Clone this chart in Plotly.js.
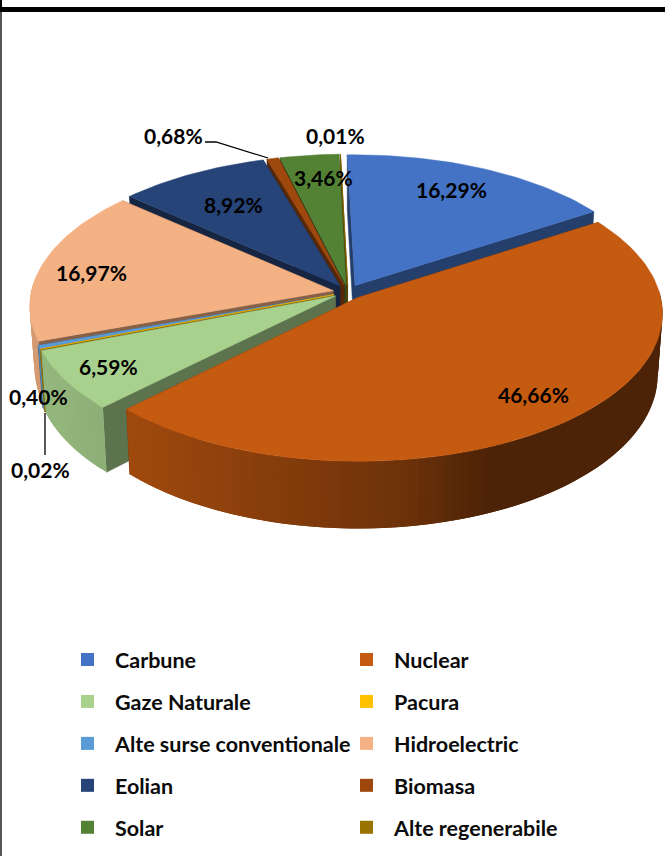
<!DOCTYPE html>
<html><head><meta charset="utf-8">
<script src="https://cdn.plot.ly/plotly-3.0.1.min.js"></script>
<style>html,body{margin:0;padding:0;background:#fff} text{font-variant-ligatures:none}</style></head>
<body><div id="chart" style="width:665px;height:856px"></div>
<script>
const categories = ["Carbune","Nuclear","Gaze Naturale","Pacura","Alte surse conventionale","Hidroelectric","Eolian","Biomasa","Solar","Alte regenerabile"];
const shares = [16.29,46.66,6.59,0.02,0.40,16.97,8.92,0.68,3.46,0.01];
const colors = ["#4472C4","#C55A11","#A9D18E","#FFC000","#5B9BD5","#F4B183","#264478","#9E480E","#548235","#997300"];
const labelX = [451,533,108,40,38,91,233,173,323,335];
const labelY = [189,394,366,469,396,272,204,135,177,135];

// projection of the tilted, exploded pie
const cx=348, cy=292, R=302, K=145.5, persp=0.103, D=60, explode=0.05, startDeg=-1.5, taper=0.015;
const rad=d=>d*Math.PI/180;
function P(wx,wy,h){const p=1/(1-persp*wy);return [cx+R*wx*p*(1-taper*h), cy+K*wy*p+h*D*p];}
function shade(hex,f){
  const n=parseInt(hex.slice(1),16);
  const c=[(n>>16)&255,(n>>8)&255,n&255].map(v=>Math.round(v*f));
  return `rgb(${c[0]},${c[1]},${c[2]})`;
}
function wallFactor(x){
  const xs=[60,130,400,490], fs=[0.87,0.81,0.56,0.385];
  if(x<=xs[0])return fs[0];
  for(let i=1;i<xs.length;i++) if(x<=xs[i]) return fs[i-1]+(fs[i]-fs[i-1])*(x-xs[i-1])/(xs[i]-xs[i-1]);
  return fs[fs.length-1];
}
const traces=[];
function poly(pts,color,lw){
  traces.push({type:'scatter',mode:'lines',x:pts.map(p=>p[0]).concat(pts[0][0]),y:pts.map(p=>p[1]).concat(pts[0][1]),
    fill:'toself',fillcolor:color,line:{color:color,width:lw===undefined?0.5:lw},hoverinfo:'skip',showlegend:false});
}
let acc=0;
const slices=shares.map((v,i)=>{const a=startDeg+acc*3.6;acc+=v;const b=startDeg+acc*3.6;
  return {i,a,b,mid:(a+b)/2};});
const order=slices.slice().sort((s,t)=>(-Math.cos(rad(s.mid)))-(-Math.cos(rad(t.mid))));
order.forEach(s=>{
  const col=colors[s.i];
  const ox=explode*Math.sin(rad(s.mid)), oy=-explode*Math.cos(rad(s.mid));
  const W=t=>[ox+Math.sin(rad(t)), oy-Math.cos(rad(t))];
  const n=Math.max(1,Math.ceil((s.b-s.a)/1.5));
  const ang=[];for(let k=0;k<=n;k++)ang.push(s.a+(s.b-s.a)*k/n);
  const cut=shade(col,0.55);
  // cut faces
  [s.a,s.b].forEach(t=>{const w=W(t);
    poly([P(ox,oy,0),P(w[0],w[1],0),P(w[0],w[1],1),P(ox,oy,1)],cut);});
  // outer wall strips, only those turned towards the viewer; each overlaps the next to hide seams
  for(let k=0;k<n;k++){
    if(-Math.cos(rad((ang[k]+ang[k+1])/2))<-0.05) continue;
    const e=ang[Math.min(n,k+2)];
    const w1=W(ang[k]),w2=W(ang[k+1]),w3=W(e);
    const q=[P(w1[0],w1[1],0),P(w2[0],w2[1],0),P(w3[0],w3[1],0),P(w3[0],w3[1],1),P(w2[0],w2[1],1),P(w1[0],w1[1],1)];
    poly(q,shade(col,wallFactor((q[0][0]+q[1][0])/2)),0);
  }
  // top
  poly([P(ox,oy,0)].concat(ang.map(t=>{const w=W(t);return P(w[0],w[1],0);})),col);
});
// leader lines
const leaderA={x:[205,216,268],y:[142,142,158]};
const leaderB={x:[45,45],y:[413,455]};
[leaderA,leaderB].forEach(l=>traces.push({type:'scatter',mode:'lines',x:l.x,y:l.y,line:{color:'#000',width:1.3},hoverinfo:'skip',showlegend:false}));
// legend entries: two columns
categories.forEach((c,i)=>traces.push({type:'scatter',mode:'markers',x:[null],y:[null],name:c,
  marker:{symbol:'square',size:13,color:colors[i]},showlegend:true,legendgroup:'g'+i,legend:i%2?'legend2':'legend'}));

const family='Lato, "Liberation Sans", sans-serif';
const legendBase={font:{family:family,size:21.5,color:'#0b0b0b',weight:700},bgcolor:'rgba(0,0,0,0)',orientation:'v',itemwidth:45,tracegroupgap:11,xanchor:'left',yanchor:'top',itemclick:false,itemdoubleclick:false};
const annotations=categories.map((c,i)=>({x:labelX[i],y:labelY[i],xref:'x',yref:'y',text:shares[i].toFixed(2).replace('.',',')+'%',
  showarrow:false,xanchor:'center',yanchor:'middle',font:{family:family,size:21,color:'#000',weight:700}}));
const layout={width:665,height:856,margin:{l:0,r:0,t:0,b:0,pad:0},paper_bgcolor:'#fff',plot_bgcolor:'#fff',showlegend:true,
  xaxis:{range:[0,665],visible:false,fixedrange:true},
  yaxis:{range:[856,0],visible:false,fixedrange:true},
  legend:Object.assign({x:60/665,y:1-639/856},legendBase),
  legend2:Object.assign({x:339/665,y:1-639/856},legendBase),
  annotations:annotations,
  shapes:[
    {type:'rect',xref:'x',yref:'y',x0:0,x1:665,y0:7,y1:12,fillcolor:'#000',line:{width:0}},
    {type:'rect',xref:'x',yref:'y',x0:0,x1:2,y0:0,y1:7,fillcolor:'#000',line:{width:0}},
    {type:'rect',xref:'x',yref:'y',x0:0,x1:2,y0:12,y1:856,fillcolor:'#555',line:{width:0}}
  ]};
Plotly.newPlot('chart',traces,layout,{staticPlot:true,displayModeBar:false});
</script></body></html>
